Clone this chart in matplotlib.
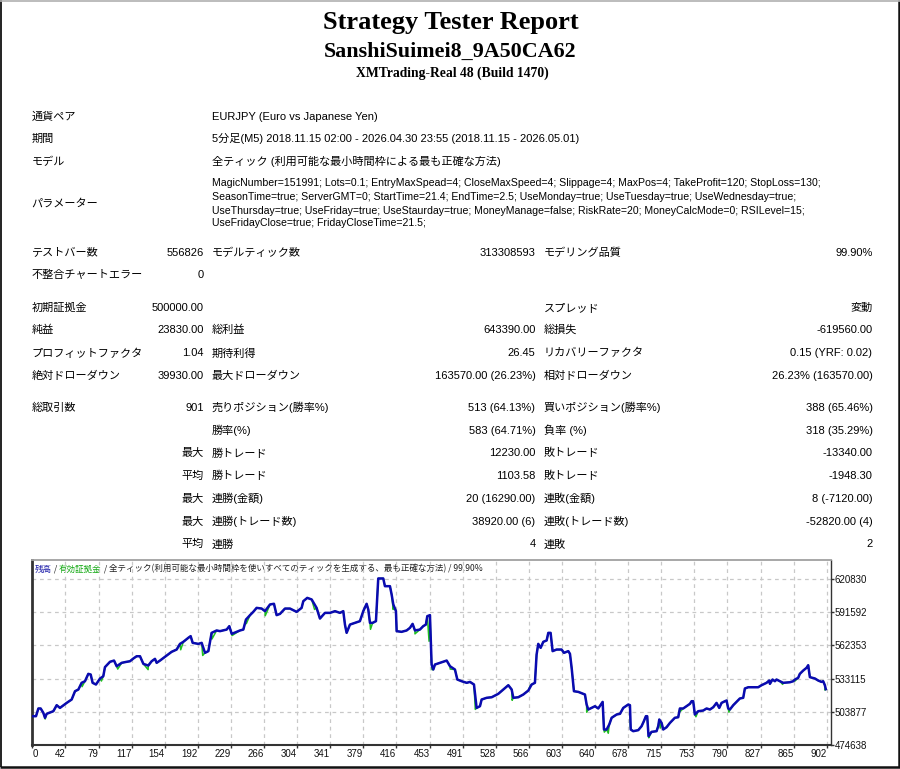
import numpy as np
import matplotlib
matplotlib.use('Agg')
import matplotlib.pyplot as plt

plt.rcParams['font.family'] = ['Liberation Sans', 'Noto Sans CJK JP', 'DejaVu Sans']

W, H = 900, 769

# ---------------- text data ----------------
title_main = "Strategy Tester Report"
title_ea = "SanshiSuimei8_9A50CA62"
title_server = "XMTrading-Real 48 (Build 1470)"

info_labels = ["通貨ペア", "期間", "モデル"]
info_values = ["EURJPY (Euro vs Japanese Yen)",
               "5分足(M5) 2018.11.15 02:00 - 2026.04.30 23:55 (2018.11.15 - 2026.05.01)",
               "全ティック (利用可能な最小時間枠による最も正確な方法)"]
param_label = "パラメーター"
param_lines = [
    "MagicNumber=151991; Lots=0.1; EntryMaxSpead=4; CloseMaxSpeed=4; Slippage=4; MaxPos=4; TakeProfit=120; StopLoss=130;",
    "SeasonTime=true; ServerGMT=0; StartTime=21.4; EndTime=2.5; UseMonday=true; UseTuesday=true; UseWednesday=true;",
    "UseThursday=true; UseFriday=true; UseStaurday=true; MoneyManage=false; RiskRate=20; MoneyCalcMode=0; RSILevel=15;",
    "UseFridayClose=true; FridayCloseTime=21.5;",
]

stats_rows = [
    ("テストバー数", "556826", "モデルティック数", "313308593", "モデリング品質", "99.90%"),
    ("不整合チャートエラー", "0", "", "", "", ""),
    ("初期証拠金", "500000.00", "", "", "スプレッド", "変動"),
    ("純益", "23830.00", "総利益", "643390.00", "総損失", "-619560.00"),
    ("プロフィットファクタ", "1.04", "期待利得", "26.45", "リカバリーファクタ", "0.15 (YRF: 0.02)"),
    ("絶対ドローダウン", "39930.00", "最大ドローダウン", "163570.00 (26.23%)", "相対ドローダウン", "26.23% (163570.00)"),
    ("総取引数", "901", "売りポジション(勝率%)", "513 (64.13%)", "買いポジション(勝率%)", "388 (65.46%)"),
    ("", "", "勝率(%)", "583 (64.71%)", "負率 (%)", "318 (35.29%)"),
    ("", "最大", "勝トレード", "12230.00", "敗トレード", "-13340.00"),
    ("", "平均", "勝トレード", "1103.58", "敗トレード", "-1948.30"),
    ("", "最大", "連勝(金額)", "20 (16290.00)", "連敗(金額)", "8 (-7120.00)"),
    ("", "最大", "連勝(トレード数)", "38920.00 (6)", "連敗(トレード数)", "-52820.00 (4)"),
    ("", "平均", "連勝", "4", "連敗", "2"),
]

chart_caption = ["残高", " / ", "有効証拠金", " / ",
                 "全ティック(利用可能な最小時間枠を使いすべてのティックを生成する、最も正確な方法) / 99.90%"]

# ---------------- chart data (trade #, balance in thousands) ----------------
balance_trades = [
    0, 4.2, 6.9, 9.5, 12.5, 14.4, 16.3, 23.9, 27.7, 31.4, 39.0, 44.7, 48.5, 52.3, 56.0, 59.8,
    63.6, 66.3, 68.5, 72.3, 76.9, 80.6, 82.5, 88.2, 92.8, 95.8, 101.5, 107.1, 110.9, 114.7,
    118.5, 122.3, 126.1, 131.7, 135.5, 139.3, 141.2, 145.0, 152.5, 158.2, 163.9, 167.7, 171.5,
    177.1, 179.8, 182.1, 188.5, 192.3, 196.1, 199.9, 203.6, 209.3,
    213.1, 220.7, 223.7, 226.4, 235.8, 239.6, 242.6, 247.2, 250.9, 254.7, 260.4, 264.2, 269.9,
    274.4, 277.4, 281.2, 286.9, 292.6, 300.1, 305.8, 307.7, 312.2, 317.2, 322.8, 326.6, 332.3,
    338.0, 343.7, 349.3, 353.1, 355.0, 356.9, 360.7, 366.4, 372.0, 375.8, 379.6, 381.5, 383.4,
    386.4, 390.2, 392.8, 398.5, 400.4, 406.1, 408.0, 409.9, 412.9, 413.7, 419.3, 425.0, 428.8,
    431.8, 434.5, 440.1, 443.9, 446.9, 448.5, 451.5,
    453.4, 455.3, 457.2, 462.9, 470.5, 474.3, 479.9, 482.6, 487.5, 493.2, 497.0, 501.5, 504.5,
    508.3, 510.2, 515.9, 521.6, 529.1, 534.8, 540.5, 544.3, 546.2, 551.8, 557.5, 563.2, 567.0,
    570.7, 572.6, 574.5, 577.2, 580.2, 584.0, 585.9, 588.5, 590.8, 595.3, 601.0, 603.7, 608.6,
    610.5, 612.4, 615.0, 620.0, 627.5, 629.4, 631.3, 635.1, 638.9, 642.6, 647.6, 649.1, 652.1,
    655.1, 657.8, 663.5, 667.3, 671.0, 676.7, 678.6,
    679.5, 682.3, 688.0, 691.8, 694.4, 696.7, 698.2, 699.7, 703.1, 708.8, 710.7, 711.9, 714.5,
    716.4, 720.2, 724.0, 729.6, 733.4, 735.3, 739.1, 742.9, 746.7, 748.6, 750.4, 752.3, 756.1,
    761.8, 765.6, 769.4, 773.2, 776.9, 780.0, 782.6, 786.4, 788.3, 790.2, 792.1, 795.9, 799.6,
    803.4, 807.2, 809.1, 812.9, 818.6, 824.2, 828.0, 833.7, 836.7, 837.5, 840.5, 843.2, 845.0,
    848.8, 852.6, 860.2, 864.0, 865.9, 869.6, 871.5, 875.3, 879.1, 881.0, 882.9, 888.6, 892.4,
    896.1, 898.0, 899.9, 901.0,
]
balance_k = [
    500.0, 500.0, 506.8, 506.8, 503.0, 498.6, 502.1, 504.4, 509.7, 507.3, 511.7, 514.7, 522.0,
    523.5, 529.4, 530.8, 537.3, 536.7, 529.4, 527.9, 533.2, 535.2, 543.2, 547.9, 549.0, 544.0,
    547.0, 547.9, 548.4, 550.8, 552.8, 552.8, 546.1, 544.6, 548.4, 550.5, 547.0, 549.0, 553.4,
    556.7, 558.7, 563.7, 565.5, 569.0, 570.5, 564.6, 563.7, 564.6, 555.8, 557.3, 573.4, 575.5,
    574.9, 576.3, 579.3, 572.5, 575.5, 576.3, 585.1, 589.0, 591.9, 595.4, 594.8, 592.5, 598.4,
    599.0, 589.0, 590.1, 594.8, 594.8, 591.9, 595.4, 601.3, 604.2, 602.8, 595.4, 586.0, 591.0,
    591.0, 592.5, 591.0, 592.5, 580.7, 573.4, 580.7, 582.2, 583.7, 592.5, 599.0, 593.9, 582.2,
    582.2, 583.7, 621.3, 621.3, 614.5, 614.5, 607.2, 598.4, 592.5, 574.9, 574.3, 575.5, 577.8,
    581.3, 575.5, 576.3, 579.3, 580.7, 588.1, 589.0,
    545.5, 541.1, 545.5, 547.0, 549.0, 544.0, 541.1, 532.3, 530.8, 529.4, 530.2, 527.9, 507.3,
    508.8, 514.7, 516.2, 516.7, 519.7, 523.5, 527.3, 523.5, 516.2, 516.7, 519.1, 522.6, 527.9,
    529.4, 554.3, 563.7, 560.2, 565.5, 566.7, 573.4, 573.4, 557.3, 558.7, 558.7, 555.8, 557.3,
    554.9, 542.6, 522.0, 521.4, 519.1, 510.3, 505.9, 507.3, 508.8, 506.8, 512.6, 488.3, 488.3,
    492.7, 498.6, 501.5, 502.1, 507.3, 510.3, 509.7,
    488.3, 486.8, 487.7, 491.2, 495.6, 500.0, 500.0, 482.4, 486.2, 486.8, 491.2, 497.1, 494.1,
    488.3, 490.3, 494.1, 498.6, 499.1, 506.8, 506.8, 508.8, 510.9, 513.2, 513.2, 501.5, 504.4,
    505.0, 506.8, 505.9, 507.9, 511.7, 507.3, 511.7, 513.2, 513.8, 506.8, 505.9, 509.7, 512.6,
    515.6, 516.2, 524.4, 525.5, 525.5, 525.5, 527.3, 529.4, 531.4, 528.5, 532.3, 530.8, 532.3,
    530.8, 529.4, 529.9, 530.8, 532.3, 533.8, 537.3, 540.2, 542.6, 544.9, 534.4, 533.2, 531.4,
    530.2, 530.8, 527.3, 523.8,
]

# equity excursions away from the balance line (trade #, equity in thousands)
equity_trades = [14.6, 56.5, 78.5, 97.0, 131.5, 168.5, 193.5, 204.0, 226.8, 243.0, 264.5,
                 320.5, 355.5, 384.0, 409.8, 434.5, 450.5, 453.8, 474.5, 503.0, 544.8, 565.5,
                 613.0, 629.5, 649.5, 654.0, 679.0, 700.0, 713.0, 735.5, 753.5, 791.0, 852.0,
                 866.0, 900.0]
equity_k = [497.5, 526.0, 531.0, 541.5, 541.0, 558.5, 553.5, 568.0, 571.0, 581.5, 588.5,
            594.0, 578.5, 576.5, 594.0, 572.5, 566.0, 541.0, 541.5, 506.0, 514.0, 527.0,
            538.0, 503.5, 486.0, 485.0, 491.0, 481.0, 489.5, 504.0, 499.5, 503.5, 528.0,
            531.0, 523.0]

x_tick_labels = ["0", "42", "79", "117", "154", "192", "229", "266", "304", "341", "379",
                 "416", "453", "491", "528", "566", "603", "640", "678", "715", "753", "790",
                 "827", "865", "902"]
y_tick_values = [474638, 503877, 533115, 562353, 591592, 620830]

# ---------------- figure ----------------
fig = plt.figure(figsize=(W / 100, H / 100), dpi=100)
bg = fig.add_axes([0, 0, 1, 1])
bg.set_xlim(0, W)
bg.set_ylim(H, 0)
bg.axis('off')

# outer frame
bg.plot([0.8, 0.8], [0, 767], color='#222222', lw=1.4, solid_capstyle='butt')
bg.plot([898.5, 898.5], [0, 767], color='#111111', lw=1.8, solid_capstyle='butt')
bg.plot([0, 899.5], [766.5, 766.5], color='#111111', lw=1.8, solid_capstyle='butt')
bg.plot([0, 899.5], [1.2, 1.2], color='#b0b0b0', lw=1.2, solid_capstyle='butt')

serif = ['Liberation Serif', 'DejaVu Serif']
bg.text(451, 29.5, title_main, ha='center', va='baseline', fontsize=19,
        fontweight='bold', family=serif)
bg.text(450, 56.5, title_ea, ha='center', va='baseline', fontsize=15.8,
        fontweight='bold', family=serif)
bg.text(452, 76.5, title_server, ha='center', va='baseline', fontsize=9.8,
        fontweight='bold', family=serif)

FS = 8
for y, lab, val in zip([116.5, 139, 161.5], info_labels, info_values):
    bg.text(31.5, y, lab, ha='left', va='center', fontsize=FS)
    bg.text(212, y, val, ha='left', va='center', fontsize=FS)
bg.text(31.5, 204, param_label, ha='left', va='center', fontsize=FS)
for y, line in zip([183, 197, 210.5, 223.5], param_lines):
    bg.text(212, y, line, ha='left', va='center', fontsize=7.6)

stats_y = [252.7, 275, 307.7, 330, 353.3, 375.7, 407.7, 430.7, 453.3, 476, 498.7, 521.7, 544.3]
for y, row in zip(stats_y, stats_rows):
    l1, v1, l2, v2, l3, v3 = row
    bg.text(31.5, y, l1, ha='left', va='center', fontsize=FS)
    bg.text(204, y, v1, ha='right', va='center', fontsize=FS)
    bg.text(211.5, y, l2, ha='left', va='center', fontsize=FS)
    bg.text(535.5, y, v2, ha='right', va='center', fontsize=FS)
    bg.text(543.5, y, l3, ha='left', va='center', fontsize=FS)
    bg.text(872.5, y, v3, ha='right', va='center', fontsize=FS)

# ---------------- chart ----------------
ax_l, ax_r, ax_t, ax_b = 32.3, 830.7, 559.5, 745.0
ax = fig.add_axes([ax_l / W, (H - ax_b) / H, (ax_r - ax_l) / W, (ax_b - ax_t) / H])
ax.set_facecolor('none')
px_per_trade = 33.1 / (902 / 24)
ax.set_xlim(0, (ax_r - ax_l) / px_per_trade)
y_per_px = (y_tick_values[-1] - y_tick_values[0]) / (ax_b - 579.0)
ax.set_ylim(y_tick_values[0], y_tick_values[0] + (ax_b - ax_t) * y_per_px)

bal_x = np.array(balance_trades)
bal_y = np.array(balance_k) * 1000
eq_x = np.concatenate([bal_x, np.array(equity_trades)])
eq_y = np.concatenate([bal_y, np.array(equity_k) * 1000])
order = np.argsort(eq_x, kind='stable')
ax.plot(eq_x[order], eq_y[order], color='#1fbf1f', lw=1.1, zorder=3)
ax.plot(bal_x, bal_y, color='#0a0ab0', lw=1.8, zorder=4)

xt = np.linspace(0, 902, len(x_tick_labels))
ax.set_xticks(xt)
ax.set_xticklabels(x_tick_labels)
ax.set_yticks(y_tick_values)
ax.set_yticklabels([str(v) for v in y_tick_values])
ax.yaxis.tick_right()
ax.tick_params(axis='both', which='both', length=2, width=1, color='#333333',
               labelsize=7, labelcolor='#111111', direction='out')
ax.tick_params(axis='x', pad=0.8)
ax.tick_params(axis='y', pad=0.8)
for i, lbl in enumerate(ax.get_xticklabels()):
    if i == 0:
        lbl.set_horizontalalignment('left')
    else:
        lbl.set_horizontalalignment('right')
ax.grid(True, color='#c8c8c8', lw=0.9, ls=(0, (3, 3)))
ax.set_axisbelow(True)
ax.spines['left'].set_color('#333333'); ax.spines['left'].set_linewidth(2)
ax.spines['bottom'].set_color('#333333'); ax.spines['bottom'].set_linewidth(1.5)
ax.spines['right'].set_color('#333333'); ax.spines['right'].set_linewidth(1)
ax.spines['top'].set_color('#a0a0a0'); ax.spines['top'].set_linewidth(1.3)

# caption inside chart, chained coloured pieces
fig.canvas.draw()
renderer = fig.canvas.get_renderer()
cap_colors = ['#1a1aa8', '#222222', '#12a812', '#222222', '#222222']
x0 = 35.0
inv = bg.transData.inverted()
for txt, col in zip(chart_caption, cap_colors):
    t = bg.text(x0, 569, txt, ha='left', va='center', fontsize=6.15, color=col,
                family=['Noto Sans CJK JP', 'DejaVu Sans'], zorder=10)
    bb = t.get_window_extent(renderer=renderer)
    x0 = inv.transform((bb.x1, bb.y0))[0]

fig.savefig('out.png', dpi=100)
